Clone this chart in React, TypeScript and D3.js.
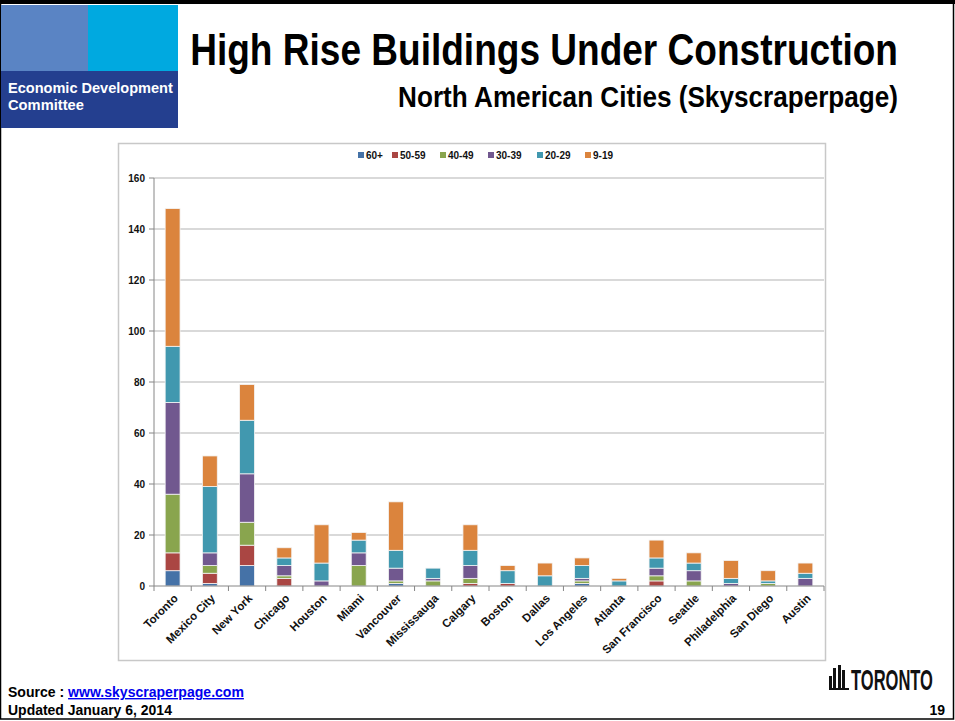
import * as d3 from "d3";
import { useLayoutEffect, useRef, useState } from "react";

const W = 955;
const H = 721;

const cities = ["Toronto", "Mexico City", "New York", "Chicago", "Houston", "Miami", "Vancouver", "Mississauga", "Calgary", "Boston", "Dallas", "Los Angeles", "Atlanta", "San Francisco", "Seattle", "Philadelphia", "San Diego", "Austin"];
const seriesNames = ["60+", "50-59", "40-49", "30-39", "20-29", "9-19"];
const seriesColors = ["#4572a7", "#aa4643", "#89a54e", "#71588f", "#4198af", "#db843d"];

const s60 = [6, 1, 8, 0, 0, 0, 1, 0, 0, 0, 0, 1, 0, 0, 0, 0, 0, 0];
const s50 = [7, 4, 8, 3, 0, 0, 0, 0, 1, 1, 0, 0, 0, 2, 0, 0, 0, 0];
const s40 = [23, 3, 9, 1, 0, 8, 1, 2, 2, 0, 0, 1, 0, 2, 2, 0, 1, 0];
const s30 = [36, 5, 19, 4, 2, 5, 5, 1, 5, 0, 0, 1, 0, 3, 4, 1, 0, 3];
const s20 = [22, 26, 21, 3, 7, 5, 7, 4, 6, 5, 4, 5, 2, 4, 3, 2, 1, 2];
const s9 = [54, 12, 14, 4, 15, 3, 19, 0, 10, 2, 5, 3, 1, 7, 4, 7, 4, 4];

const yTicks = [0, 20, 40, 60, 80, 100, 120, 140, 160];

const narrow = "'Liberation Sans Narrow', 'Arial Narrow', Arial, sans-serif";

// squeezes a text horizontally so that it fills the given width
const FitText = ({ x, y, width, anchor = "start", children, ...rest }: any) => {
  const ref = useRef<SVGTextElement>(null);
  const [k, setK] = useState(1);
  useLayoutEffect(() => {
    if (ref.current) {
      const w = ref.current.getComputedTextLength();
      if (w > 0) setK(width / w);
    }
  }, [width]);
  return (
    <g transform={`translate(${x},${y}) scale(${k},1)`}>
      <text ref={ref} x={0} y={0} textAnchor={anchor} {...rest}>{children}</text>
    </g>
  );
};

const App = () => {
  const rows = cities.map((c, i) => ({
    city: c,
    "60+": s60[i],
    "50-59": s50[i],
    "40-49": s40[i],
    "30-39": s30[i],
    "20-29": s20[i],
    "9-19": s9[i],
  }));
  const stacked = d3.stack().keys(seriesNames)(rows as any);

  const x = d3.scaleBand().domain(cities).range([154, 824]).paddingInner(0.6).paddingOuter(0.3);
  const step = x.step();
  const left = 154;
  const y = d3.scaleLinear().domain([0, 160]).range([586, 178]);

  const legendX = [358, 392, 440, 488, 537, 585];

  return (
    <svg width={W} height={H} style={{ position: "absolute", left: 0, top: 0 }} fontFamily="Arial, 'Liberation Sans', sans-serif">
      <rect x={0} y={0} width={W} height={H} fill="#fff" />
      {/* slide frame */}
      <rect x={0.5} y={3} width={W - 2} height={H - 5} fill="none" stroke="#000" strokeWidth={1.5} />
      <rect x={0} y={0} width={W} height={4} fill="#000" />

      {/* logo block */}
      <rect x={1} y={5} width={87} height={66} fill="#5a84c4" />
      <rect x={88} y={5} width={90} height={66} fill="#00a9e0" />
      <rect x={1} y={71} width={177} height={57} fill="#243f8f" />
      <FitText x={8} y={93} width={165} fill="#fff" fontSize={14} fontWeight="bold">Economic Development</FitText>
      <FitText x={8} y={110} width={76} fill="#fff" fontSize={14} fontWeight="bold">Committee</FitText>

      {/* titles */}
      <FitText x={898} y={65} width={708} anchor="end" fontSize={45} fontWeight="bold" fontFamily={narrow}>High Rise Buildings Under Construction</FitText>
      <FitText x={898} y={107} width={500} anchor="end" fontSize={30} fontWeight="bold" fontFamily={narrow}>North American Cities (Skyscraperpage)</FitText>

      {/* chart area */}
      <rect x={118.5} y={143.5} width={707} height={517} fill="#fff" stroke="#c8c8c8" strokeWidth={1.5} />

      {/* gridlines */}
      {yTicks.map((t) => (
        <g key={t}>
          {t > 0 && <line x1={left} x2={824} y1={y(t)} y2={y(t)} stroke="#b3b3b3" strokeWidth={1.2} />}
          <line x1={149} x2={left} y1={y(t)} y2={y(t)} stroke="#868686" />
          <text x={145} y={y(t) + 3.5} textAnchor="end" fontSize={10} fontWeight="bold" fill="#111">{t}</text>
        </g>
      ))}

      {/* bars */}
      {stacked.map((s, si) => (
        <g key={s.key} fill={seriesColors[si]}>
          {s.map((d, i) =>
            d[1] - d[0] > 0 ? (
              <rect key={i} x={x(cities[i])} y={y(d[1])} width={x.bandwidth()} height={y(d[0]) - y(d[1])} stroke="#f4f4f4" strokeWidth={0.8} />
            ) : null
          )}
        </g>
      ))}

      {/* axes */}
      <line x1={left} x2={left} y1={178} y2={586} stroke="#868686" />
      <line x1={left} x2={824} y1={586} y2={586} stroke="#868686" />
      {d3.range(cities.length + 1).map((i) => (
        <line key={i} x1={left + i * step} x2={left + i * step} y1={586} y2={591} stroke="#868686" />
      ))}
      {cities.map((c) => {
        const cx = (x(c) as number) + x.bandwidth() / 2 + 6;
        return (
          <text key={c} transform={`translate(${cx},${599}) rotate(-45)`} textAnchor="end" fontSize={11.5} fontWeight="bold" fill="#111">{c}</text>
        );
      })}

      {/* legend */}
      {seriesNames.map((n, i) => (
        <g key={n} transform={`translate(${legendX[i]},152)`}>
          <rect x={0} y={0} width={6} height={6} fill={seriesColors[i]} />
          <text x={8} y={7} fontSize={10} fontWeight="bold" fill="#111">{n}</text>
        </g>
      ))}

      {/* footer */}
      <FitText x={8} y={697} width={236} fontSize={14} fontWeight="bold" fill="#000" fontFamily={narrow}>Source : <tspan fill="#0000ee" textDecoration="underline">www.skyscraperpage.com</tspan></FitText>
      <FitText x={8} y={715} width={164} fontSize={14} fontWeight="bold" fill="#000" fontFamily={narrow}>Updated January 6, 2014</FitText>
      <text x={945} y={715} textAnchor="end" fontSize={14} fontWeight="bold" fill="#000" fontFamily={narrow}>19</text>

      {/* Toronto logo */}
      <g fill="#111">
        <rect x={829} y={676} width={3} height={14} />
        <rect x={833} y={668} width={3} height={22} />
        <rect x={838} y={665} width={3} height={25} />
        <rect x={842} y={670} width={3} height={20} />
        <rect x={829} y={688} width={20} height={2} />
        <FitText x={851} y={690} width={82} fontSize={30} fontWeight="bold" fontFamily={narrow}>TORONTO</FitText>
      </g>
    </svg>
  );
};

export default App;
